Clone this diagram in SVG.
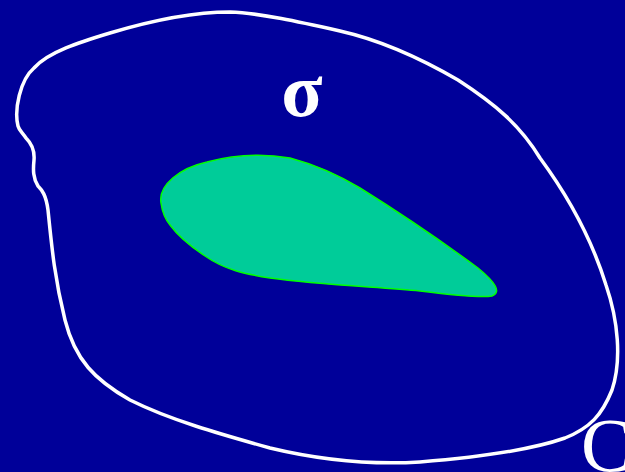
<svg xmlns="http://www.w3.org/2000/svg" width="625" height="472" viewBox="0 0 625 472">
<style>
.outer{fill:none;stroke:#ffffff;stroke-width:3.5;stroke-linejoin:round}
.inner{fill:#00CC99;stroke:#00FF00;stroke-width:1.5}
.lbl{fill:#ffffff;font-family:"Liberation Serif","Times New Roman",serif}
</style>
<rect width="625" height="472" fill="#000099"/>
<g id="region-C">
<path class="outer" d="M18,126 C14,110 20,80 34,68 C48,52 80,42 110,33 C150,21 190,12 230,12 C260,13 300,22 340,31 C380,40 420,58 458,80 C495,104 520,125 540,158 C568,196 592,240 606,285 C618,320 622,360 612,390 C602,415 590,428 565,438 C525,452 470,458 420,462 C370,465 320,460 270,448 C220,434 170,420 130,400 C95,380 75,360 65,320 C55,280 52,250 48,210 C46,195 42,190 38,186 C33,178 33,170 34,160 C35,148 30,142 26,138 C22,132 19,130 18,126 Z"/>
</g>
<g id="region-green">
<path class="inner" d="M161,203 C158,185 180,168 207,162 C230,156 260,153 290,158 C320,166 340,176 360,188 C400,213 440,240 478,268 C495,282 502,292 492,296 C482,298 460,296 420,291 C380,287 320,285 270,278 C245,274 225,270 205,256 C190,246 178,236 170,225 C164,218 162,210 161,203 Z"/>
</g>
<text class="lbl" x="302" y="116" font-size="76" font-weight="bold" text-anchor="middle">σ</text>
<text class="lbl" x="581" y="471" font-size="76">C</text>
</svg>
